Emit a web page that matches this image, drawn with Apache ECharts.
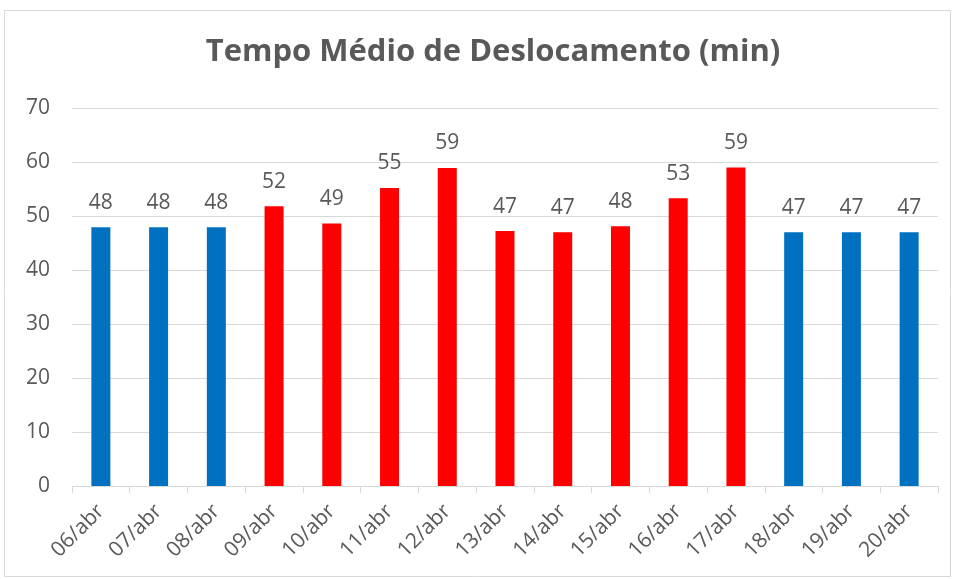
<!DOCTYPE html>
<html>
<head>
<meta charset="utf-8">
<script src="https://cdn.jsdelivr.net/npm/echarts@6/dist/echarts.min.js"></script>
<style>
  html, body { margin: 0; padding: 0; background: #fff; }
  #main { width: 955px; height: 579px; }
</style>
</head>
<body>
<div id="main"></div>
<script>
const dias = ['06/abr', '07/abr', '08/abr', '09/abr', '10/abr', '11/abr', '12/abr', '13/abr',
  '14/abr', '15/abr', '16/abr', '17/abr', '18/abr', '19/abr', '20/abr']
const tempoMedio = [47.9, 47.9, 47.9, 51.8, 48.6, 55.2, 58.9, 47.2, 47.0, 48.1, 53.3, 59.0, 47.0, 47.0, 47.0]
// dias marcados em vermelho no original
const destaque = [false, false, false, true, true, true, true, true, true, true, true, true, false, false, false]

const AZUL = '#0070C0'
const VERMELHO = '#FF0000'
const TEXTO = '#595959'
const FONTE = 'Open Sans'

const chart = echarts.init(document.getElementById('main'))
const option = {
  animation: false,
  backgroundColor: '#fff',
  title: {
    text: 'Tempo Médio de Deslocamento (min)',
    left: 488,
    top: 32,
    textAlign: 'center',
    textStyle: { fontFamily: FONTE, fontWeight: 'bold', fontSize: 31, color: TEXTO }
  },
  graphic: [{
    type: 'rect',
    shape: { x: 4.5, y: 10.5, width: 946, height: 566 },
    style: { fill: 'none', stroke: '#D9D9D9', lineWidth: 1 },
    silent: true
  }],
  grid: { left: 72, right: 17, top: 108, bottom: 93 },
  xAxis: {
    type: 'category',
    data: dias,
    axisLine: { lineStyle: { color: '#D9D9D9', width: 1 } },
    axisTick: { show: true, length: 7, lineStyle: { color: '#D9D9D9' } },
    axisLabel: {
      rotate: 45, margin: 22, color: TEXTO, fontFamily: FONTE, fontSize: 21
    }
  },
  yAxis: {
    type: 'value',
    min: 0, max: 70, interval: 10,
    axisLine: { show: false },
    axisTick: { show: false },
    splitLine: { lineStyle: { color: '#D9D9D9', width: 1 } },
    axisLabel: { margin: 22, color: TEXTO, fontFamily: FONTE, fontSize: 21 }
  },
  series: [{
    type: 'bar',
    barWidth: 19,
    data: tempoMedio,
    itemStyle: {
      color: (p) => (destaque[p.dataIndex] ? VERMELHO : AZUL)
    },
    label: {
      show: true,
      position: 'top',
      distance: 14,
      color: TEXTO,
      fontFamily: FONTE,
      fontSize: 21,
      formatter: (p) => Math.round(p.value)
    }
  }]
}
chart.setOption(option)
</script>
</body>
</html>
